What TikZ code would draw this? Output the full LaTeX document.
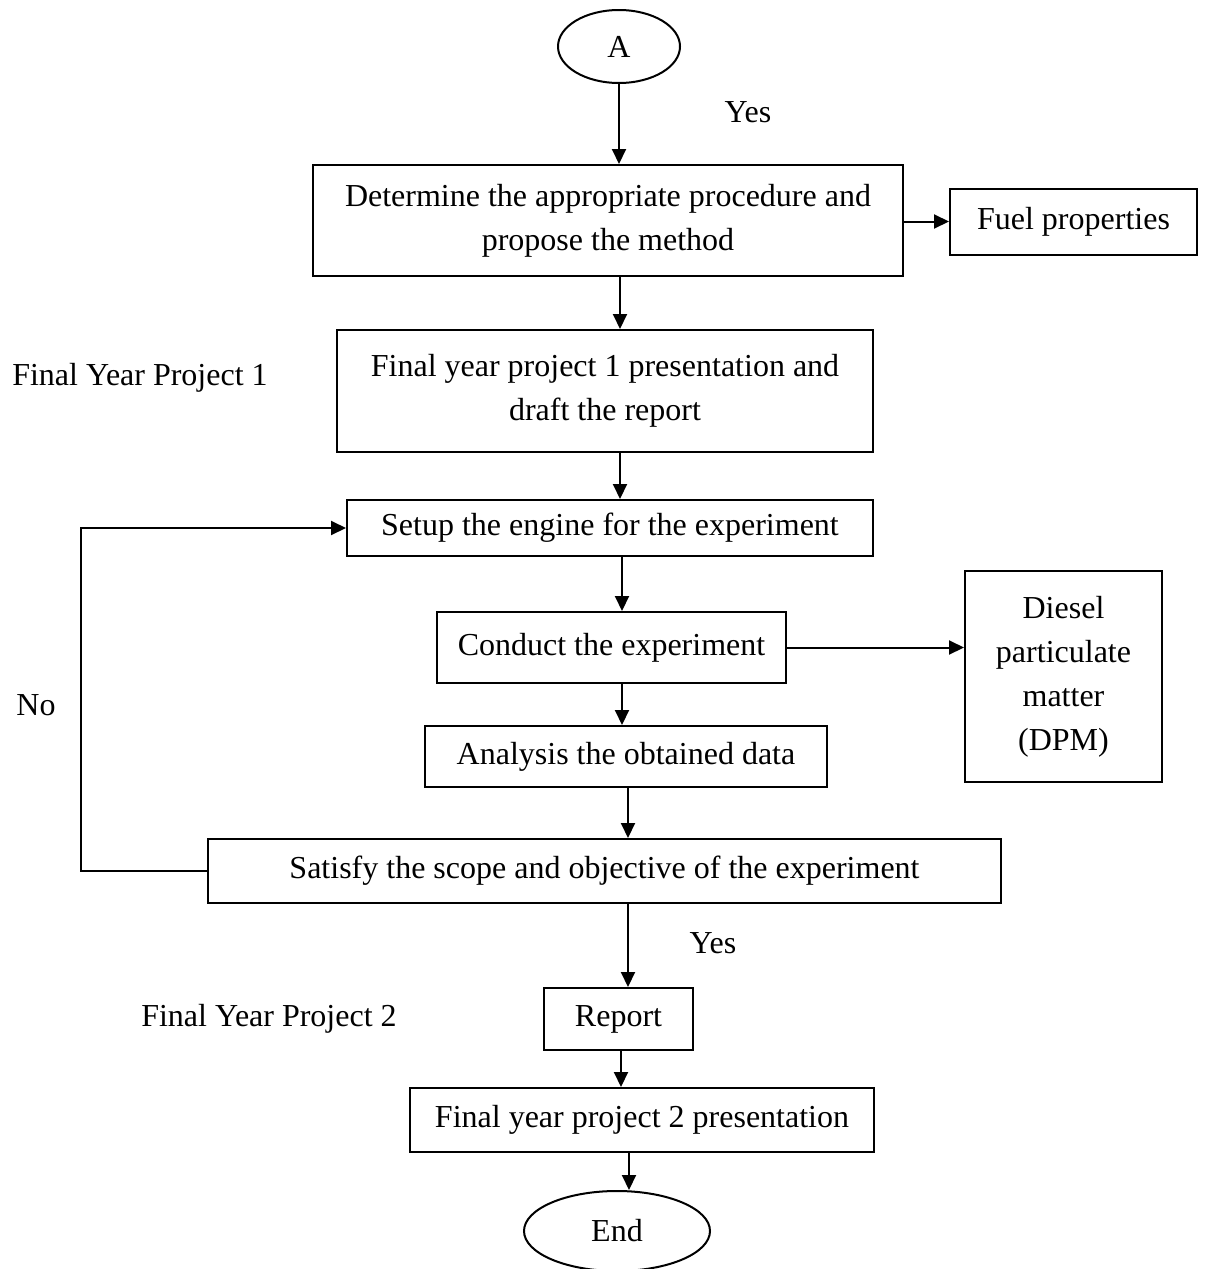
\documentclass[tikz,border=0pt]{standalone}
\usepackage{fontspec}
\setmainfont{Liberation Serif}
\usetikzlibrary{arrows.meta,shapes.geometric}
\begin{document}
\begin{tikzpicture}[x=1pt,y=-1pt,
  every node/.style={font=\fontsize{32}{44}\selectfont},
  box/.style={draw,line width=2pt,rectangle,inner sep=0pt,align=center},
  oval/.style={draw,line width=2pt,ellipse,inner sep=0pt},
  lbl/.style={inner sep=0pt},
  arr/.style={line width=2pt,-{Triangle[length=15pt,width=14pt]}},
  ln/.style={line width=2pt}]
\useasboundingbox (0,0) rectangle (1208,1269);
\node[oval,minimum width=122,minimum height=73] (A) at (619,46.5) {A};
\node[box,minimum width=590,minimum height=111] (b1) at (608,220.5) {Determine the appropriate procedure and\\propose the method};
\node[box,minimum width=247,minimum height=66] (fuel) at (1073.5,221.5) {Fuel properties};
\node[box,minimum width=536,minimum height=122] (b2) at (605,391) {Final year project 1 presentation and\\draft the report};
\node[box,minimum width=526,minimum height=56] (b3) at (610,528) {Setup the engine for the experiment};
\node[box,minimum width=349,minimum height=71] (b4) at (611.5,647.5) {Conduct the experiment};
\node[box,minimum width=197,minimum height=211] (dpm) at (1063.5,676.5) {Diesel\\particulate\\matter\\(DPM)};
\node[box,minimum width=402,minimum height=61] (b5) at (626,756.5) {Analysis the obtained data};
\node[box,minimum width=793,minimum height=64] (b6) at (604.5,871) {Satisfy the scope and objective of the experiment};
\node[box,minimum width=149,minimum height=62] (rep) at (618.5,1019) {Report};
\node[box,minimum width=464,minimum height=64] (b8) at (642,1120) {Final year project 2 presentation};
\node[oval,minimum width=186,minimum height=80] (E) at (617,1231) {End};

\node[lbl] (yes1) at (748,112) {Yes};
\node[lbl] (fyp1) at (140,378) {Final Year Project 1};
\node[lbl] (no) at (36,705) {No};
\node[lbl] (yes2) at (713,943) {Yes};
\node[lbl] (fyp2) at (269,1019) {Final Year Project 2};

\draw[arr] (A.south) -- (A.south |- b1.north);
\draw[arr] ([xshift=12pt]b1.south) -- ([xshift=12pt]b1.south |- b2.north);
\draw[arr] (b1.east |- fuel.west) -- (fuel.west);
\draw[arr] ([xshift=15pt]b2.south) -- ([xshift=15pt]b2.south |- b3.north);
\draw[arr] ([xshift=12pt]b3.south) -- ([xshift=12pt]b3.south |- b4.north);
\draw[arr] (b4.east) -- (b4.east -| dpm.west);
\draw[arr] ([xshift=10.5pt]b4.south) -- ([xshift=10.5pt]b4.south |- b5.north);
\draw[arr] ([xshift=2pt]b5.south) -- ([xshift=2pt]b5.south |- b6.north);
\draw[arr] ([xshift=23.5pt]b6.south) -- ([xshift=23.5pt]b6.south |- rep.north);
\draw[arr] ([xshift=2.5pt]rep.south) -- ([xshift=2.5pt]rep.south |- b8.north);
\draw[arr] ([xshift=-13pt]b8.south) -- ([xshift=-13pt]b8.south |- E.north);
\draw[arr] (b6.west) -- ++(-126,0) |- (b3.west);
\end{tikzpicture}
\end{document}
